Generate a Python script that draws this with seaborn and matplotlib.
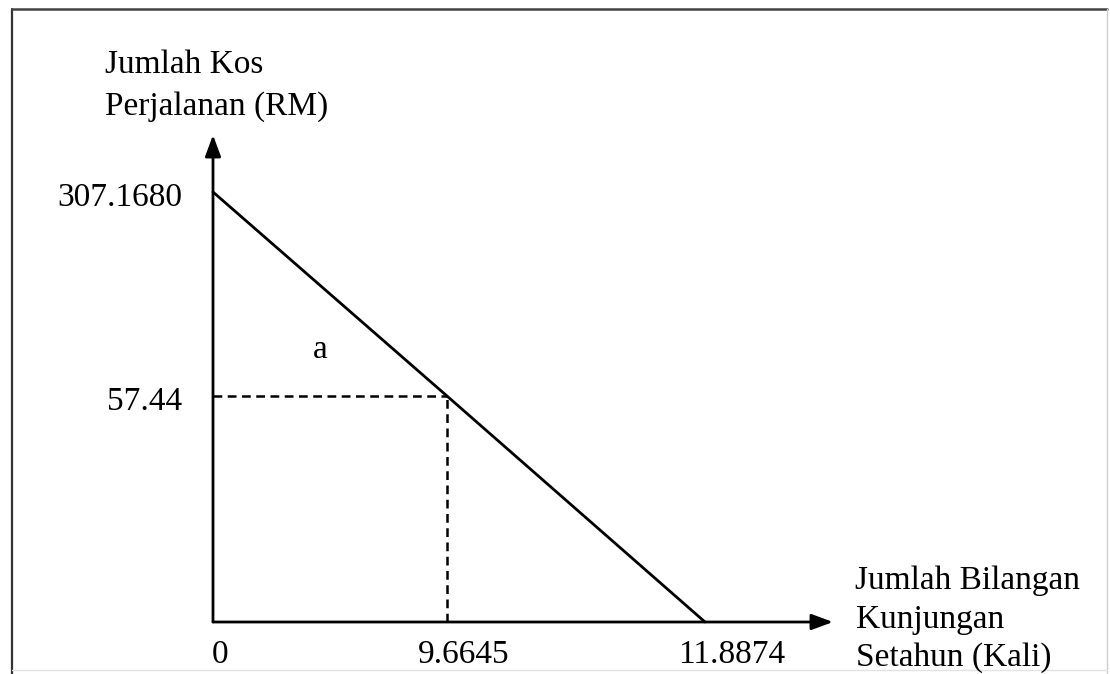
import numpy as np
import matplotlib
matplotlib.use("Agg")
import matplotlib.pyplot as plt
from matplotlib.lines import Line2D
import seaborn as sns

# values written on the diagram
trips = [0, 9.6645, 11.8874]          # Jumlah Bilangan Kunjungan Setahun (Kali)
cost = [307.1680, 57.44, 0]           # Jumlah Kos Perjalanan (RM)
x_tick_labels = ["0", "9.6645", "11.8874"]
y_tick_values = [307.1680, 57.44]
y_tick_labels = ["307.1680", "57.44"]
visit_trips = 9.6645
visit_cost = 57.44

W, H = 1110, 674

# the diagram is a sketch, not to scale -> piecewise linear axis scales
x_src, x_px = [0, 9.6645, 11.8874], [213, 447, 705]
y_src, y_px = [0, 57.44, 307.1680], [52, 278, 482]


def piecewise(v, s, d):
    v = np.asarray(v, dtype=float)
    k0 = (d[1] - d[0]) / (s[1] - s[0])
    k1 = (d[-1] - d[-2]) / (s[-1] - s[-2])
    return np.where(v < s[0], d[0] + (v - s[0]) * k0,
                    np.where(v > s[-1], d[-1] + (v - s[-1]) * k1,
                             np.interp(v, s, d)))


fx = lambda v: piecewise(v, x_src, x_px)
ix = lambda v: piecewise(v, x_px, x_src)
fy = lambda v: piecewise(v, y_src, y_px)
iy = lambda v: piecewise(v, y_px, y_src)

sns.set_theme(style="white")
plt.rcParams["font.family"] = ["Liberation Serif", "DejaVu Serif"]
plt.rcParams["text.color"] = "black"

fig = plt.figure(figsize=(W / 100, H / 100), dpi=100)
ax = fig.add_axes([0, 0, 1, 1])
ax.set_xscale("function", functions=(fx, ix))
ax.set_yscale("function", functions=(fy, iy))
ax.set_xlim(float(ix(0)), float(ix(W)))
ax.set_ylim(float(iy(0)), float(iy(H)))
ax.axis("off")

# demand line
sns.lineplot(x=trips, y=cost, ax=ax, color="black", lw=2.0)

# dashed guides
ax.plot([0, visit_trips], [visit_cost, visit_cost], color="black", lw=1.8, dashes=(3.5, 2.2))
ax.plot([visit_trips, visit_trips], [0, visit_cost], color="black", lw=1.8, dashes=(3.5, 2.2))

# axes with arrows
arrow = dict(arrowstyle="-|>,head_length=0.65,head_width=0.24", lw=2.0,
             color="black", shrinkA=0, shrinkB=0, mutation_scale=20)
ax.annotate("", xy=(float(ix(833)), 0), xytext=(0, 0), arrowprops=arrow)
ax.annotate("", xy=(0, float(iy(H - 135))), xytext=(0, 0), arrowprops=arrow)

fs = 24
# tick labels
x_dx = [-1, -29, -27]
for val, lab, dx in zip(trips, x_tick_labels, x_dx):
    ax.annotate(lab, xy=(val, 0), xytext=(dx, -41), textcoords="offset pixels",
                ha="left", va="baseline", fontsize=fs, color="black")
for val, lab in zip(y_tick_values, y_tick_labels):
    ax.annotate(lab, xy=(0, val), xytext=(-31, -14), textcoords="offset pixels",
                ha="right", va="baseline", fontsize=fs, color="black")


def put(s, x, y, **kw):
    fig.text(x / W, 1 - y / H, s, ha="left", va="baseline", fontsize=fs,
             color="black", **kw)


put("Jumlah Kos", 105, 73)
put("Perjalanan (RM)", 105, 115)
put("Jumlah Bilangan", 855, 589)
put("Kunjungan", 856, 628)
put("Setahun (Kali)", 856, 666)
put("a", 313, 358)

# outer frame
fig.add_artist(Line2D([12 / W, 12 / W], [0, 1 - 9 / H], color="#333333", lw=1.6))
fig.add_artist(Line2D([12 / W, 1107 / W], [1 - 9 / H, 1 - 9 / H], color="#444444", lw=1.8))
fig.add_artist(Line2D([1107 / W, 1107 / W], [0, 1 - 9 / H], color="#cccccc", lw=1.0))
fig.add_artist(Line2D([12 / W, 1107 / W], [4 / H, 4 / H], color="#e2e2e2", lw=1.0))

plt.savefig("out.png", dpi=100)
